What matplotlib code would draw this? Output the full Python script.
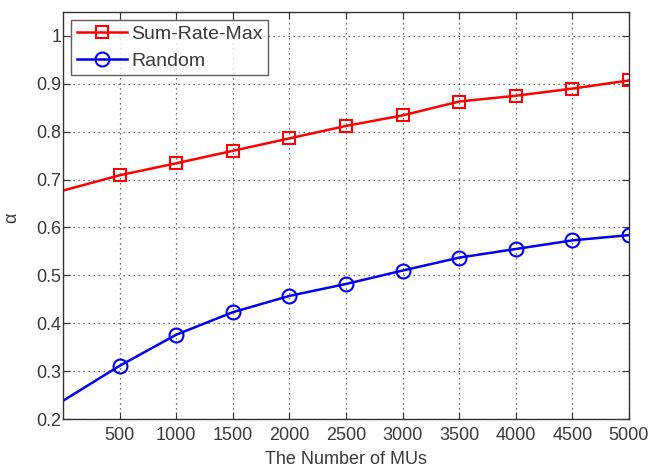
import matplotlib
matplotlib.use("Agg")
import matplotlib.pyplot as plt

plt.rcParams['font.family'] = ['Liberation Sans', 'DejaVu Sans']

x_vals = [0, 500, 1000, 1500, 2000, 2500, 3000, 3500, 4000, 4500, 5000]
sum_rate_max = [0.677, 0.709, 0.734, 0.760, 0.786, 0.812, 0.834, 0.863, 0.875, 0.890, 0.907]
random_vals = [0.238, 0.311, 0.376, 0.423, 0.457, 0.482, 0.510, 0.537, 0.555, 0.573, 0.584]
x_ticks = [500, 1000, 1500, 2000, 2500, 3000, 3500, 4000, 4500, 5000]
y_ticks = [0.2, 0.3, 0.4, 0.5, 0.6, 0.7, 0.8, 0.9, 1.0]
y_tick_labels = ['0.2', '0.3', '0.4', '0.5', '0.6', '0.7', '0.8', '0.9', '1']

txt = '#3a3a3a'
fig = plt.figure(figsize=(6.52, 4.68), dpi=100)
ax = fig.add_axes([0.0966, 0.1047, 0.868, 0.8697])

ax.plot(x_vals, sum_rate_max, color='#ff0000', lw=1.8, marker='s', markersize=9,
        markerfacecolor='none', markeredgewidth=1.5, markevery=list(range(1, 11)),
        label='Sum-Rate-Max')
ax.plot(x_vals, random_vals, color='#0000ee', lw=1.8, marker='o', markersize=10,
        markerfacecolor='none', markeredgewidth=1.5, markevery=list(range(1, 11)),
        label='Random')

ax.set_xlim(0, 5000)
ax.set_ylim(0.2, 1.05)
ax.set_xticks(x_ticks)
ax.set_yticks(y_ticks)
ax.set_yticklabels(y_tick_labels)
ax.grid(True, linestyle=(0, (1, 3)), color='#444444', linewidth=0.9)
ax.tick_params(direction='in', top=True, right=True, labelsize=13, colors='#333333',
               labelcolor=txt, length=5)
ax.tick_params(axis='x', pad=6)
ax.tick_params(axis='y', pad=1)
for s in ax.spines.values():
    s.set_color('#333333')
    s.set_linewidth(1.0)

ax.set_xlabel('The Number of MUs', fontsize=13, color=txt, labelpad=5)
ax.set_ylabel('α', fontsize=13, color=txt)
ax.yaxis.set_label_coords(-0.076, 0.495)

leg = ax.legend(loc='upper left', fontsize=14, frameon=True, fancybox=False,
                edgecolor='#333333', handlelength=2.6, borderaxespad=0.4,
                labelspacing=0.45, handletextpad=0.2, borderpad=0.3)
leg.get_frame().set_linewidth(1.0)
for t in leg.get_texts():
    t.set_color(txt)

fig.savefig('out.png', dpi=100)
